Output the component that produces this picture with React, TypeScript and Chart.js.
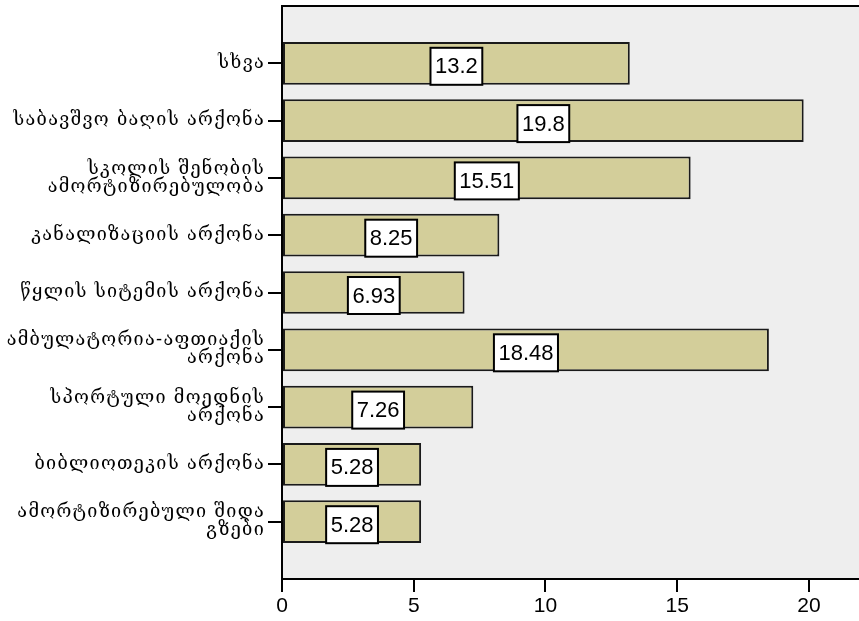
import React, { useEffect, useRef } from 'react';
import { Chart, registerables } from 'chart.js';

Chart.register(...registerables);

const categories = [
  'სხვა',
  'საბავშვო ბაღის არქონა',
  'სკოლის შენობის\nამორტიზირებულობა',
  'კანალიზაციის არქონა',
  'წყლის სიტემის არქონა',
  'ამბულატორია-აფთიაქის\nარქონა',
  'სპორტული მოედნის\nარქონა',
  'ბიბლიოთეკის არქონა',
  'ამორტიზირებული შიდა\nგზები',
];
const values = [13.2, 19.8, 15.51, 8.25, 6.93, 18.48, 7.26, 5.28, 5.28];
const valueLabels = ['13.2', '19.8', '15.51', '8.25', '6.93', '18.48', '7.26', '5.28', '5.28'];
const xTicks = [0, 5, 10, 15, 20];
const xMax = 21.9;

const chartDecor = {
  id: 'chartDecor',
  afterLayout(chart: any) {
    const ys = chart.scales.y;
    if (ys && !ys.__spaced) {
      const orig = ys.drawLabels.bind(ys);
      ys.drawLabels = (ca: any) => {
        const c = ys.ctx;
        const prev = c.letterSpacing;
        c.letterSpacing = '1.3px';
        orig(ca);
        c.letterSpacing = prev || '0px';
      };
      ys.__spaced = true;
    }
  },
  beforeDraw(chart: any) {
    const { ctx, chartArea } = chart;
    ctx.save();
    ctx.fillStyle = '#EEEEEE';
    ctx.fillRect(chartArea.left, chartArea.top, chartArea.right - chartArea.left, chartArea.bottom - chartArea.top);
    ctx.restore();
  },
  afterDraw(chart: any) {
    const { ctx, chartArea } = chart;
    ctx.save();
    ctx.strokeStyle = '#000';
    ctx.lineWidth = 2;
    ctx.beginPath();
    ctx.moveTo(chartArea.left - 1, chartArea.top);
    ctx.lineTo(chartArea.right, chartArea.top);
    ctx.stroke();

    const meta = chart.getDatasetMeta(0);
    ctx.font = '22px "Liberation Sans", Arial, sans-serif';
    ctx.textAlign = 'center';
    ctx.textBaseline = 'middle';
    meta.data.forEach((el: any, i: number) => {
      const txt = valueLabels[i];
      const w = ctx.measureText(txt).width + 9;
      const h = 37;
      const cx = (el.x + el.base) / 2;
      const cy = el.y + 3;
      ctx.fillStyle = '#FFFFFF';
      ctx.fillRect(cx - w / 2, cy - h / 2, w, h);
      ctx.lineWidth = 2;
      ctx.strokeStyle = '#000';
      ctx.strokeRect(cx - w / 2, cy - h / 2, w, h);
      ctx.fillStyle = '#000';
      ctx.fillText(txt, cx, cy + 1);
    });
    ctx.restore();
  },
};

export default function App() {
  const canvasRef = useRef<HTMLCanvasElement | null>(null);

  useEffect(() => {
    if (!canvasRef.current) return;
    const chart = new Chart(canvasRef.current, {
      type: 'bar',
      data: {
        datasets: [
          {
            data: values.map((v, i) => ({ x: v, y: i + 1 })),
            backgroundColor: '#D3CE9A',
            borderColor: '#1A1A1A',
            borderWidth: 2,
            borderSkipped: false,
            barPercentage: 0.745,
            categoryPercentage: 1,
          },
        ],
      },
      options: {
        indexAxis: 'y',
        responsive: false,
        animation: false,
        layout: { padding: { top: 6, right: 0, left: 0, bottom: 0 } },
        plugins: {
          legend: { display: false },
          tooltip: { enabled: false },
          title: { display: false },
        },
        scales: {
          x: {
            type: 'linear',
            min: 0,
            max: xMax,
            offset: false,
            afterBuildTicks: (scale: any) => {
              scale.ticks = xTicks.map((v) => ({ value: v }));
            },
            afterFit: (scale: any) => {
              scale.height = 42;
              scale.paddingLeft = 0;
              scale.paddingRight = 0;
            },
            border: { display: true, color: '#000', width: 2 },
            grid: { display: true, offset: false, drawOnChartArea: false, drawTicks: true, tickLength: 13, color: '#000', lineWidth: 2 },
            ticks: {
              color: '#000',
              padding: 2,
              maxRotation: 0,
              font: { family: '"Liberation Sans", Arial, sans-serif', size: 21 },
            },
          },
          y: {
            type: 'linear',
            min: 0,
            max: categories.length + 1,
            reverse: true,
            offset: false,
            afterBuildTicks: (scale: any) => {
              scale.ticks = categories.map((_, i) => ({ value: i + 1 }));
            },
            afterFit: (scale: any) => {
              scale.width = 282;
              scale.paddingTop = 0;
              scale.paddingBottom = 0;
            },
            border: { display: true, color: '#000', width: 2 },
            grid: { display: true, offset: false, drawOnChartArea: false, drawTicks: true, tickLength: 14, color: '#000', lineWidth: 2 },
            ticks: {
              color: '#000',
              padding: 3,
              autoSkip: false,
              font: { family: '"DejaVu Serif", serif', size: 18, lineHeight: 1.0 },
              callback: (value: any) => {
                const c = categories[Number(value) - 1];
                return c ? c.split('\n') : '';
              },
            },
          },
        },
      },
      plugins: [chartDecor],
    });
    return () => chart.destroy();
  }, []);

  return (
    <div style={{ position: 'absolute', left: 0, top: 0, width: 859, height: 621, background: '#FFFFFF' }}>
      <canvas ref={canvasRef} width={859} height={621} style={{ display: 'block', width: 859, height: 621 }} />
    </div>
  );
}
